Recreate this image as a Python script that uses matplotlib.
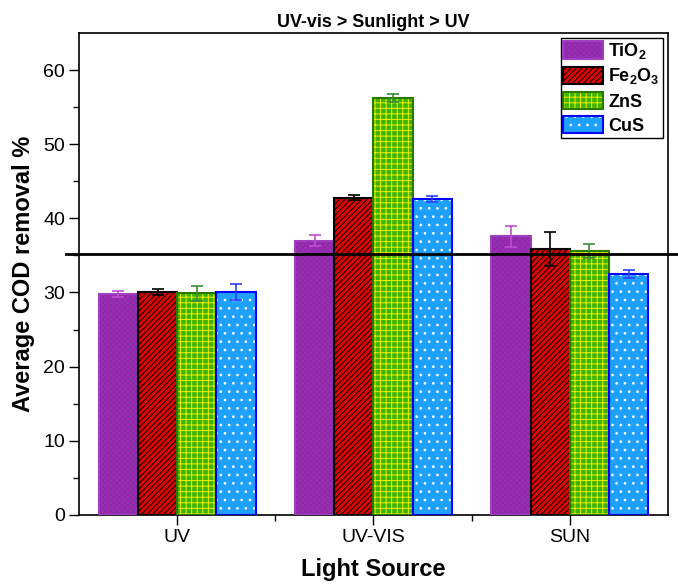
import numpy as np
import matplotlib.pyplot as plt
from matplotlib.patches import Patch
from matplotlib.legend_handler import HandlerTuple

plt.rcParams['font.family'] = ['Liberation Sans', 'DejaVu Sans']
plt.rcParams['mathtext.fontset'] = 'custom'
plt.rcParams['mathtext.bf'] = 'Liberation Sans:bold'
plt.rcParams['mathtext.rm'] = 'Liberation Sans'
plt.rcParams['hatch.linewidth'] = 0.7

sources = ['UV', 'UV-VIS', 'SUN']
catalysts = ['TiO$_\\mathbf{2}$', 'Fe$_\\mathbf{2}$O$_\\mathbf{3}$', 'ZnS', 'CuS']

tio2 = [29.8, 37.0, 37.6]
fe2o3 = [30.1, 42.8, 35.9]
zns = [29.9, 56.2, 35.6]
cus = [30.1, 42.6, 32.5]

tio2_err = [0.4, 0.7, 1.4]
fe2o3_err = [0.4, 0.3, 2.3]
zns_err = [1.0, 0.5, 1.0]
cus_err = [1.1, 0.4, 0.5]

values = [tio2, fe2o3, zns, cus]
errors = [tio2_err, fe2o3_err, zns_err, cus_err]

fills = ['#9a2fb5', '#e00000', '#3cb400', '#1ea0ff']
edges = ['#a040c0', '#000000', '#2a7a00', '#0000ff']
hatches = ['xxxxxx', '//////', '+++', '..']
hatch_cols = ['#8c2aa6', '#000000', '#f0f000', '#ffffff']
err_cols = ['#c050d0', '#000000', '#3a8a3a', '#3040ff']

fig = plt.figure(figsize=(6.78, 5.85), dpi=100)
ax = fig.add_axes([0.1165, 0.1197, 0.8687, 0.824])

x = np.arange(1, 4)
w = 0.2
for i in range(4):
    pos = x + (i - 1.5) * w
    ax.bar(pos, values[i], w, color=fills[i], linewidth=0, zorder=2)
    ax.bar(pos, values[i], w, color='none', edgecolor=hatch_cols[i],
           hatch=hatches[i], linewidth=0, zorder=2.5)
    ax.bar(pos, values[i], w, color='none', edgecolor=edges[i],
           linewidth=1.5, zorder=2.6)
    ax.errorbar(pos, values[i], yerr=errors[i], fmt='none', ecolor=err_cols[i],
                elinewidth=1.2, capsize=4, capthick=1.2, zorder=3)

# reference line
ax.plot([0.434, 3.551], [35.2, 35.2], color='black', lw=2, clip_on=False, zorder=4)

ax.set_xlim(0.5, 3.5)
ax.set_ylim(0, 65)
ax.set_xticks(x)
ax.set_xticklabels(sources)
ax.set_xticks([1.5, 2.5], minor=True)
ax.set_yticks(range(0, 61, 10))
ax.set_yticks(range(5, 65, 10), minor=True)
ax.tick_params(axis='both', which='major', labelsize=14, length=7, width=1, direction='out', pad=3)
ax.tick_params(axis='both', which='minor', length=4, width=1, direction='out')
for s in ax.spines.values():
    s.set_linewidth(1.2)

ax.set_xlabel('Light Source', fontsize=17, fontweight='bold', labelpad=9)
ax.set_ylabel('Average COD removal %', fontsize=17, fontweight='bold', labelpad=6)
ax.set_title('UV-vis > Sunlight > UV', fontsize=12.9, fontweight='bold', pad=4)

# legend handles: fill + hatch + edge stacked
handles = []
for i in range(4):
    handles.append((Patch(facecolor=fills[i], linewidth=0),
                    Patch(facecolor='none', edgecolor=hatch_cols[i], hatch=hatches[i], linewidth=0),
                    Patch(facecolor='none', edgecolor=edges[i], linewidth=1.5)))
leg = ax.legend(handles, catalysts, handler_map={tuple: HandlerTuple(ndivide=1)},
                loc='upper right', prop={'weight': 'bold', 'size': 13},
                frameon=True, fancybox=False, edgecolor='black', framealpha=1,
                handlelength=2.2, handleheight=1.1, labelspacing=0.3,
                handletextpad=0.3, borderpad=0.15, borderaxespad=0.3)
leg.get_frame().set_linewidth(1)

fig.savefig('out.png', dpi=100)
